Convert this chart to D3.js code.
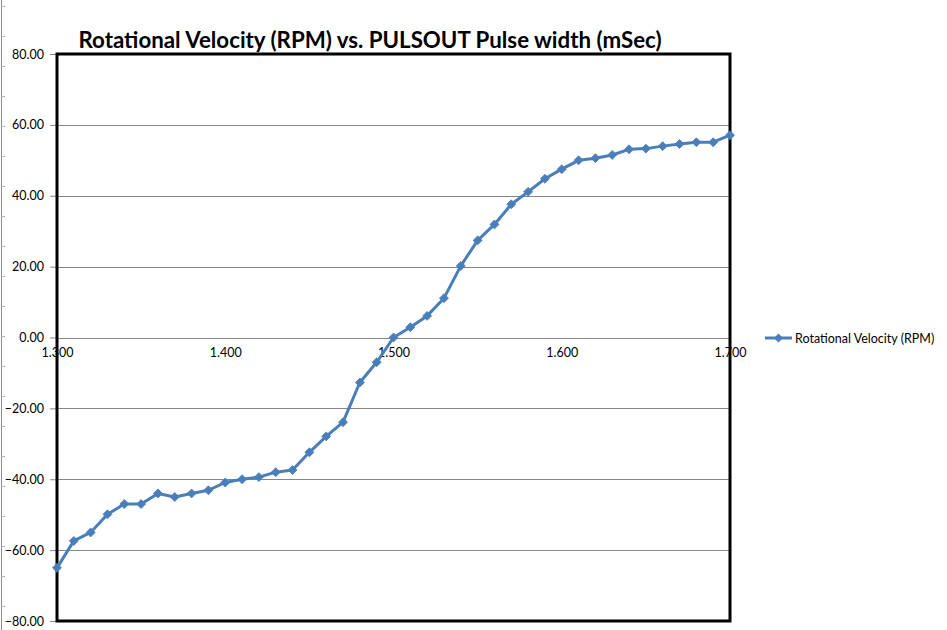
<!DOCTYPE html>
<html>
<head>
<meta charset="utf-8">
<script src="https://cdn.jsdelivr.net/npm/d3@7"></script>
<style>
  html, body { margin: 0; padding: 0; background: #fff; }
  svg { display: block; }
</style>
</head>
<body>
<svg id="chart" width="947" height="630"></svg>
<script>
// ---- data ----
const pulseWidths = [1.30,1.31,1.32,1.33,1.34,1.35,1.36,1.37,1.38,1.39,
                     1.40,1.41,1.42,1.43,1.44,1.45,1.46,1.47,1.48,1.49,
                     1.50,1.51,1.52,1.53,1.54,1.55,1.56,1.57,1.58,1.59,
                     1.60,1.61,1.62,1.63,1.64,1.65,1.66,1.67,1.68,1.69,1.70];
const rpmValues = [-65.0,-57.4,-55.0,-49.9,-47.0,-47.0,-44.0,-45.0,-44.0,-43.1,
                   -40.9,-40.0,-39.4,-38.0,-37.4,-32.4,-27.9,-23.9,-12.7,-7.0,
                   0.0,2.9,6.1,11.1,20.2,27.4,31.9,37.6,41.1,44.8,
                   47.5,50.0,50.6,51.5,53.1,53.3,54.0,54.6,55.1,55.1,57.1];
const xTicks = [1.3,1.4,1.5,1.6,1.7];
const yTicks = [-80,-60,-40,-20,0,20,40,60,80];
const titleText = "Rotational Velocity (RPM) vs. PULSOUT Pulse width (mSec)";
const seriesName = "Rotational Velocity (RPM)";

const svg = d3.select("#chart");
const plot = {left: 57, right: 730, top: 54, bottom: 621};
const x = d3.scaleLinear().domain([1.3, 1.7]).range([plot.left, plot.right]);
const y = d3.scaleLinear().domain([-80, 80]).range([plot.bottom, plot.top]);
const blue = "#4a7ebb";
const font = "Lato, 'Liberation Sans', sans-serif";

// stray left-edge axis fragment
svg.append("line").attr("x1", 1.5).attr("x2", 1.5).attr("y1", 0).attr("y2", 630)
  .attr("stroke", "#8c8c8c").attr("stroke-width", 1);
svg.append("g").selectAll("line").data(d3.range(6, 630, 30)).join("line")
  .attr("x1", 1).attr("x2", 5).attr("y1", d => d + 0.5).attr("y2", d => d + 0.5)
  .attr("stroke", "#b0b0b0").attr("stroke-width", 1);

// gridlines
svg.append("g").selectAll("line").data(yTicks.filter(d => d !== 80 && d !== -80)).join("line")
  .attr("x1", plot.left).attr("x2", plot.right)
  .attr("y1", d => Math.round(y(d)) + 0.5).attr("y2", d => Math.round(y(d)) + 0.5)
  .attr("stroke", "#868686").attr("stroke-width", 1);

// y axis ticks and labels
const yAxis = d3.axisLeft(y).tickValues(yTicks).tickFormat(d3.format(".2f")).tickSize(6).tickPadding(6);
const yg = svg.append("g").attr("transform", `translate(${plot.left - 1},0)`).call(yAxis);
yg.select(".domain").remove();
yg.selectAll(".tick line").attr("stroke", "#868686");
yg.selectAll("text").attr("font-family", font).attr("font-size", 12.5).attr("fill", "#000");

// x axis labels along y=0
const xg = svg.append("g").attr("transform", `translate(0,${Math.round(y(0)) + 0.5})`)
  .call(d3.axisBottom(x).tickValues(xTicks).tickFormat(d3.format(".3f")).tickSize(0).tickPadding(10));
xg.select(".domain").remove();
xg.selectAll("text").attr("font-family", font).attr("font-size", 12.5).attr("fill", "#000");

// plot frame
svg.append("rect").attr("x", plot.left).attr("y", plot.top)
  .attr("width", plot.right - plot.left).attr("height", plot.bottom - plot.top)
  .attr("fill", "none").attr("stroke", "#000").attr("stroke-width", 3);

// series line
const pts = pulseWidths.map((d, i) => [d, rpmValues[i]]);
svg.append("path").datum(pts)
  .attr("d", d3.line().x(d => x(d[0])).y(d => y(d[1])))
  .attr("fill", "none").attr("stroke", blue).attr("stroke-width", 3).attr("stroke-linejoin", "round");

const diamond = d3.symbol().type(d3.symbolSquare).size(40);
svg.append("g").selectAll("path").data(pts).join("path")
  .attr("transform", d => `translate(${x(d[0])},${y(d[1])}) rotate(45)`)
  .attr("d", diamond).attr("fill", blue).attr("stroke", blue).attr("stroke-width", 0.8);

// title
svg.append("text").attr("x", 370).attr("y", 48).attr("text-anchor", "middle")
  .attr("font-family", font).attr("font-weight", "bold").attr("font-size", 23)
  .attr("textLength", 583).attr("lengthAdjust", "spacingAndGlyphs")
  .text(titleText);

// legend
const lg = svg.append("g").attr("transform", "translate(765,338)");
lg.append("line").attr("x1", 0).attr("x2", 27).attr("y1", 0).attr("y2", 0)
  .attr("stroke", blue).attr("stroke-width", 3);
lg.append("path").attr("transform", "translate(13.5,0) rotate(45)").attr("d", diamond).attr("fill", blue);
lg.append("text").attr("x", 30).attr("y", 4.5).attr("font-family", font).attr("font-size", 12.5)
  .text(seriesName);
</script>
</body>
</html>
